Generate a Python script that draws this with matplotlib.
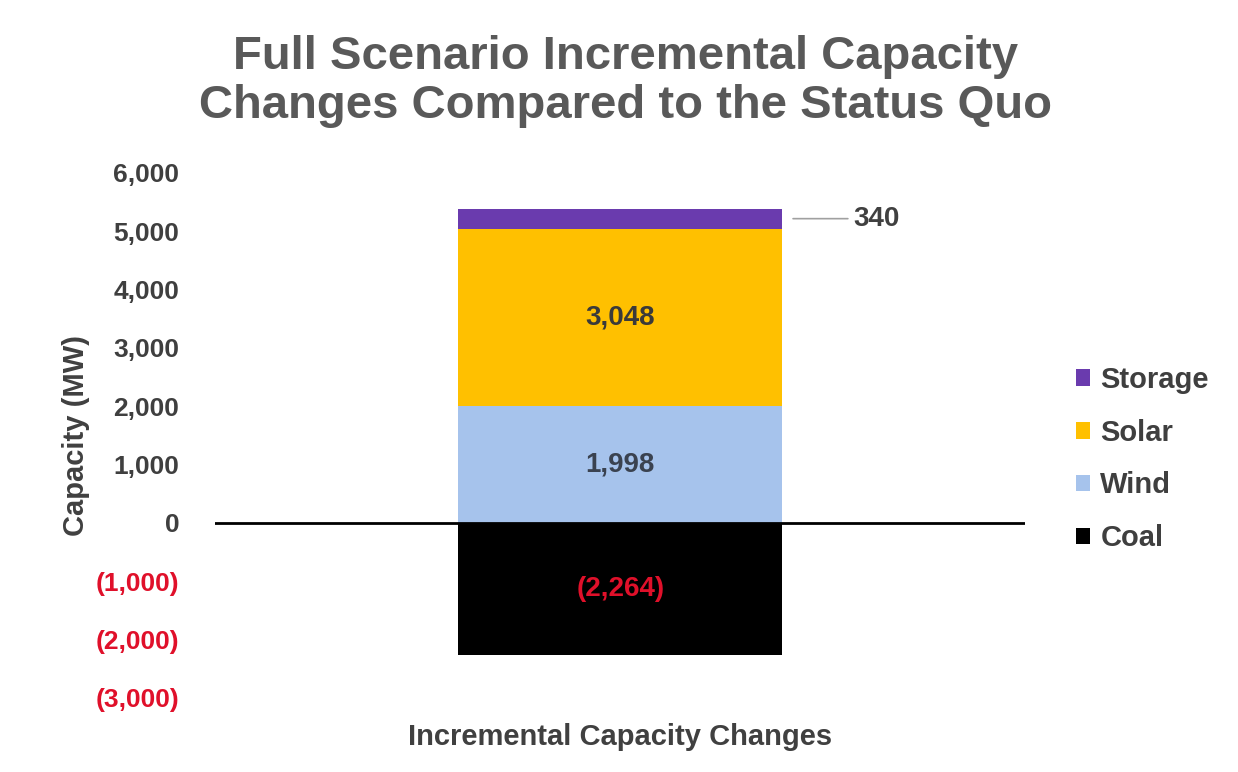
import numpy as np
import matplotlib.pyplot as plt

plt.rcParams['font.family'] = ['Liberation Sans', 'DejaVu Sans']

# data
category = ["Incremental Capacity Changes"]
series_names = ["Coal", "Wind", "Solar", "Storage"]
series_values = [-2264, 1998, 3048, 340]
series_colors = ["#000000", "#A6C3EC", "#FFC000", "#6A3BAE"]
label_colors = ["#E0102A", "#3A4250", "#3A3A3A", "#404040"]
yticks = [-3000, -2000, -1000, 0, 1000, 2000, 3000, 4000, 5000, 6000]


def fmt(v):
    return f"({abs(v):,})" if v < 0 else f"{v:,}"


fig = plt.figure(figsize=(12.38, 7.72), dpi=100)
ax = fig.add_axes([0.174, 0.096, 0.654, 0.68])

x = np.arange(len(category))
width = 0.4
pos_base = 0
for name, val, col, lc in zip(series_names, series_values, series_colors, label_colors):
    if val < 0:
        ax.bar(x, val, width, color=col, label=name)
        mid = val / 2
    else:
        ax.bar(x, val, width, bottom=pos_base, color=col, label=name)
        mid = pos_base + val / 2
        pos_base += val
    if name == "Storage":
        top = pos_base - val / 2
        ax.annotate(fmt(val), xy=(x[0] + width / 2 + 0.01, top),
                    xytext=(x[0] + width / 2 + 0.088, top),
                    fontsize=20, fontweight='bold', color=lc, va='center',
                    arrowprops=dict(arrowstyle='-', color='#A0A0A0', lw=1.2))
    else:
        ax.text(x[0], mid, fmt(val), ha='center', va='center',
                fontsize=20, fontweight='bold', color=lc)

ax.axhline(0, color='black', lw=2)
ax.set_xlim(-0.5, 0.5)
ax.set_ylim(-3000, 6000)
ax.set_yticks(yticks)
ax.set_yticklabels([fmt(v) for v in yticks], fontsize=19, fontweight='bold')
for lab, v in zip(ax.get_yticklabels(), yticks):
    lab.set_color('#E0102A' if v < 0 else '#3F3F3F')
ax.set_xticks([])
ax.tick_params(axis='y', length=0, pad=26)
for s in ax.spines.values():
    s.set_visible(False)

ax.set_ylabel("Capacity (MW)", fontsize=21, fontweight='bold', color='#404040', labelpad=4)
ax.set_xlabel(category[0], fontsize=21, fontweight='bold', color='#404040', labelpad=18)

fig.suptitle("Full Scenario Incremental Capacity\nChanges Compared to the Status Quo",
             x=0.505, y=0.955, fontsize=34, fontweight='bold', color='#595959',
             linespacing=1.15)

handles, labels = ax.get_legend_handles_labels()
ax.legend(handles[::-1], labels[::-1], loc='center left',
          bbox_to_anchor=(1.03, 0.455), frameon=False,
          prop={'size': 21, 'weight': 'bold'}, labelcolor='#3F3F3F',
          handlelength=0.5, handleheight=0.5, handletextpad=0.35,
          labelspacing=0.85)

fig.savefig("out.png", dpi=100, facecolor='white')
